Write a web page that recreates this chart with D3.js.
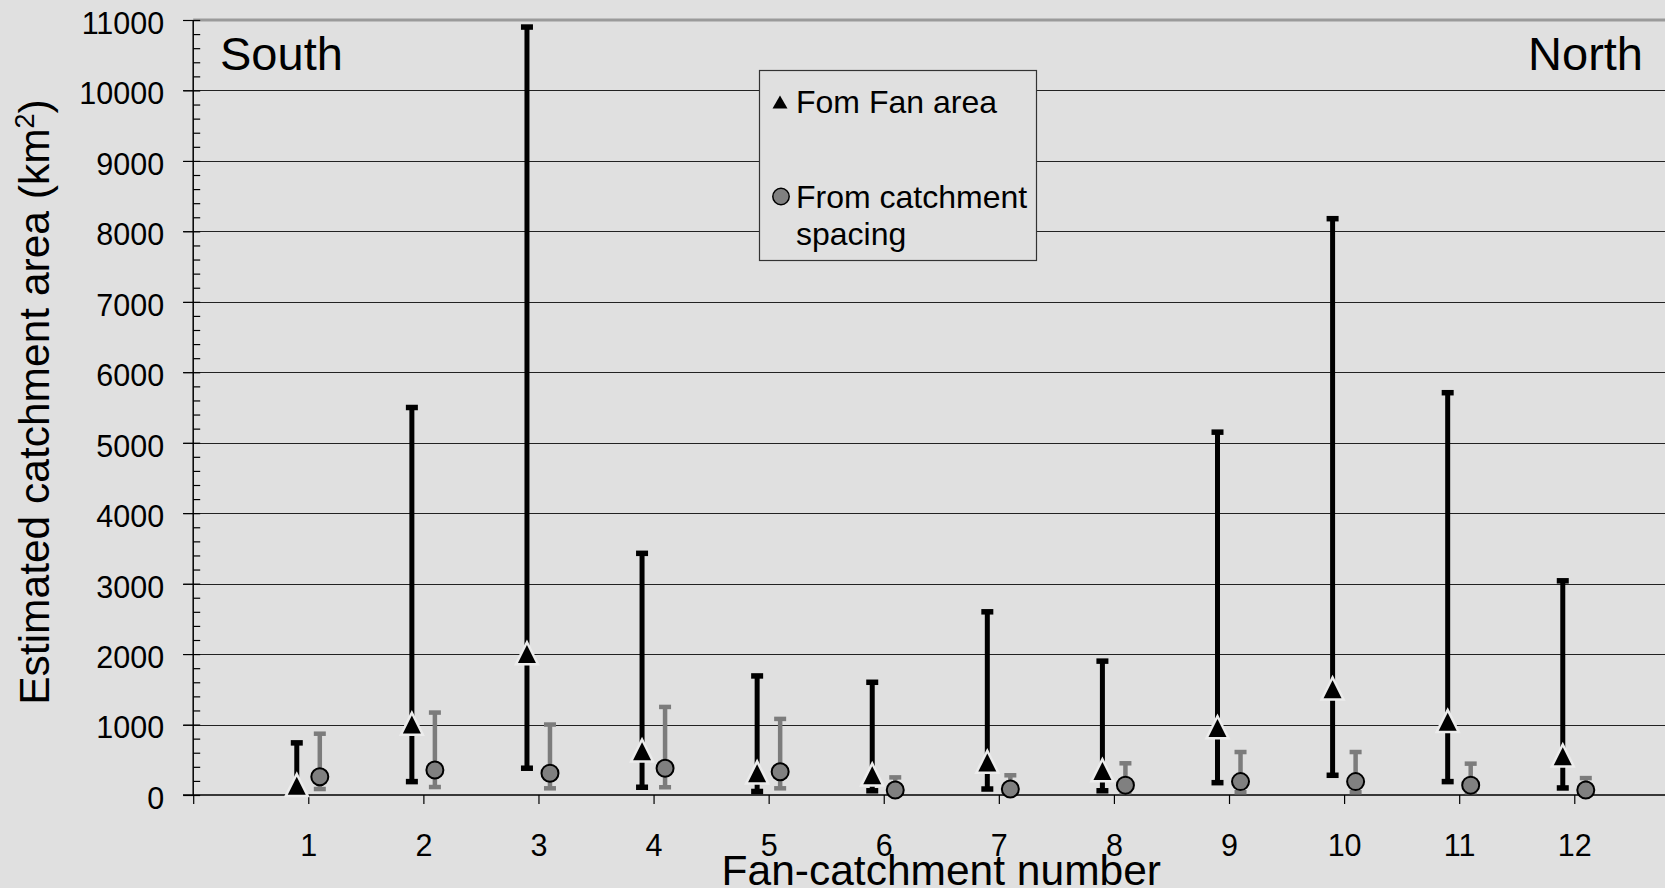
<!DOCTYPE html>
<html>
<head>
<meta charset="utf-8">
<script src="https://cdn.jsdelivr.net/npm/d3@7"></script>
<style>
  body { margin: 0; background: #e0e0e0; }
  svg { display: block; font-family: "Liberation Sans", Arial, sans-serif; }
</style>
</head>
<body>
<svg id="chart" width="1665" height="888"></svg>
<script>
// values (km2)
var catchments = [1, 2, 3, 4, 5, 6, 7, 8, 9, 10, 11, 12];
var fanMid = [130, 1000, 2000, 620, 310, 280, 460, 340, 950, 1500, 1040, 550];
var fanHi  = [740, 5500, 10900, 3430, 1690, 1600, 2600, 1900, 5150, 8180, 5710, 3040];
var fanLo  = [20, 190, 380, 110, 50, 60, 85, 60, 175, 280, 190, 100];
var spMid  = [260, 355, 310, 380, 330, 70, 85, 140, 190, 190, 140, 70];
var spHi   = [870, 1170, 1000, 1250, 1080, 250, 280, 450, 610, 610, 445, 240];
var spLo   = [85, 113, 95, 110, 95, 20, 30, 40, 40, 40, 40, 20];
var yTicks = [0, 1000, 2000, 3000, 4000, 5000, 6000, 7000, 8000, 9000, 10000, 11000];

var svg = d3.select("#chart");
var W = +svg.attr("width");
var bg = "#e0e0e0";

var x = d3.scaleLinear().domain([0, 13]).range([193.2, 193.2 + 13 * 115.09]);
var y = d3.scaleLinear().domain([0, 11000]).range([795, 20]);

// gridlines
svg.append("g").selectAll("line")
  .data(yTicks.slice(1))
  .join("line")
  .attr("x1", 183).attr("x2", W)
  .attr("y1", function(d) { return Math.round(y(d)) + 0.5; })
  .attr("y2", function(d) { return Math.round(y(d)) + 0.5; })
  .attr("stroke", "#222").attr("stroke-width", 1);

// top border of plot area
svg.append("line")
  .attr("x1", x(0)).attr("x2", W)
  .attr("y1", y(11000)).attr("y2", y(11000))
  .attr("stroke", "#9a9a9a").attr("stroke-width", 3);

// y axis
var yAxis = d3.axisLeft(y).tickValues(yTicks).tickSize(10).tickPadding(19)
  .tickFormat(d3.format("d"));
var gy = svg.append("g")
  .attr("transform", "translate(" + x(0) + ",0)")
  .call(yAxis);
gy.select(".domain").remove();
gy.selectAll("text").attr("dy", "0.44em").attr("font-size", 30.5).attr("fill", "#000")
  .attr("font-family", "Liberation Sans, Arial, sans-serif");
gy.selectAll(".tick line").attr("stroke", "#000").attr("stroke-width", 1.2);

// minor ticks, inside
var gyMinor = svg.append("g")
  .attr("transform", "translate(" + x(0) + ",0)")
  .call(d3.axisRight(y).tickValues(d3.range(0, 11001, 200)).tickSize(7).tickFormat(""));
gyMinor.select(".domain").remove();
gyMinor.selectAll(".tick line").attr("stroke", "#000").attr("stroke-width", 1.2);

svg.append("line")
  .attr("x1", x(0)).attr("x2", x(0))
  .attr("y1", y(11000)).attr("y2", y(0))
  .attr("stroke", "#000").attr("stroke-width", 1.5);

// x axis
var xAxis = d3.axisBottom(x).tickValues(d3.range(0, 13))
  .tickSize(9).tickPadding(30)
  .tickFormat(function(d) { return d === 0 ? "" : d; });
var gx = svg.append("g")
  .attr("transform", "translate(0," + y(0) + ")")
  .call(xAxis);
gx.select(".domain").remove();
gx.selectAll("text").attr("font-size", 30.5).attr("fill", "#000")
  .attr("font-family", "Liberation Sans, Arial, sans-serif");
gx.selectAll(".tick line").attr("stroke", "#000").attr("stroke-width", 1.2);

svg.append("line")
  .attr("x1", 183).attr("x2", W)
  .attr("y1", y(0)).attr("y2", y(0))
  .attr("stroke", "#000").attr("stroke-width", 1.5);

// error bars
function errorBars(mid, lo, hi, dx, color, w, capH) {
  var g = svg.append("g");
  var xs = function(i) { return x(catchments[i] + dx); };
  g.selectAll("line.bar")
    .data(catchments)
    .join("line")
    .attr("class", "bar")
    .attr("x1", function(d, i) { return xs(i); })
    .attr("x2", function(d, i) { return xs(i); })
    .attr("y1", function(d, i) { return y(lo[i]); })
    .attr("y2", function(d, i) { return y(hi[i]); })
    .attr("stroke", color).attr("stroke-width", w);
  [lo, hi].forEach(function(arr) {
    g.append("g").selectAll("rect")
      .data(catchments)
      .join("rect")
      .attr("x", function(d, i) { return xs(i) - 6; })
      .attr("y", function(d, i) { return y(arr[i]) - capH / 2; })
      .attr("width", 12).attr("height", capH)
      .attr("fill", color);
  });
}
errorBars(fanMid, fanLo, fanHi, -0.1, "#000", 5, 5.5);
errorBars(spMid, spLo, spHi, 0.1, "#7c7c7c", 4.5, 4.5);

// markers
var tri = "M0,-9L9,9L-9,9Z";
svg.append("g").selectAll("path")
  .data(catchments)
  .join("path")
  .attr("d", tri)
  .attr("transform", function(d, i) { return "translate(" + x(d - 0.1) + "," + y(fanMid[i]) + ")"; })
  .attr("fill", "#000")
  .attr("stroke", "#ececec").attr("stroke-width", 5)
  .attr("stroke-linejoin", "miter")
  .attr("paint-order", "stroke");

svg.append("g").selectAll("circle")
  .data(catchments)
  .join("circle")
  .attr("cx", function(d) { return x(d + 0.1); })
  .attr("cy", function(d, i) { return y(spMid[i]); })
  .attr("r", 8.5)
  .attr("fill", "#808080")
  .attr("stroke", "#000").attr("stroke-width", 2);

// South / North
svg.append("text").attr("x", 220).attr("y", 70)
  .attr("font-size", 47).text("South");
svg.append("text").attr("x", 1643).attr("y", 70)
  .attr("text-anchor", "end").attr("font-size", 47).text("North");

// legend
var leg = svg.append("g");
leg.append("rect")
  .attr("x", 759.5).attr("y", 70.5).attr("width", 277).attr("height", 190)
  .attr("fill", bg).attr("stroke", "#333").attr("stroke-width", 1.2);
leg.append("path")
  .attr("d", "M0,-6.5L7.5,6.5L-7.5,6.5Z")
  .attr("transform", "translate(780,102)")
  .attr("fill", "#000");
leg.append("text").attr("x", 796).attr("y", 113).attr("font-size", 32).text("Fom Fan area");
leg.append("circle").attr("cx", 781).attr("cy", 196.5).attr("r", 8.2)
  .attr("fill", "#808080").attr("stroke", "#000").attr("stroke-width", 1.5);
leg.append("text").attr("x", 796).attr("y", 208).attr("font-size", 32).text("From catchment");
leg.append("text").attr("x", 796).attr("y", 245).attr("font-size", 32).text("spacing");

// axis titles
svg.append("text")
  .attr("x", (x(0) + x(13)) / 2).attr("y", 885)
  .attr("text-anchor", "middle").attr("font-size", 42.5)
  .text("Fan-catchment number");

var yt = svg.append("text")
  .attr("transform", "translate(49,402) rotate(-90)")
  .attr("text-anchor", "middle").attr("font-size", 42.5);
yt.append("tspan").text("Estimated catchment area (km");
yt.append("tspan").attr("font-size", 27).attr("dy", -15).text("2");
yt.append("tspan").attr("dy", 15).text(")");
</script>
</body>
</html>
